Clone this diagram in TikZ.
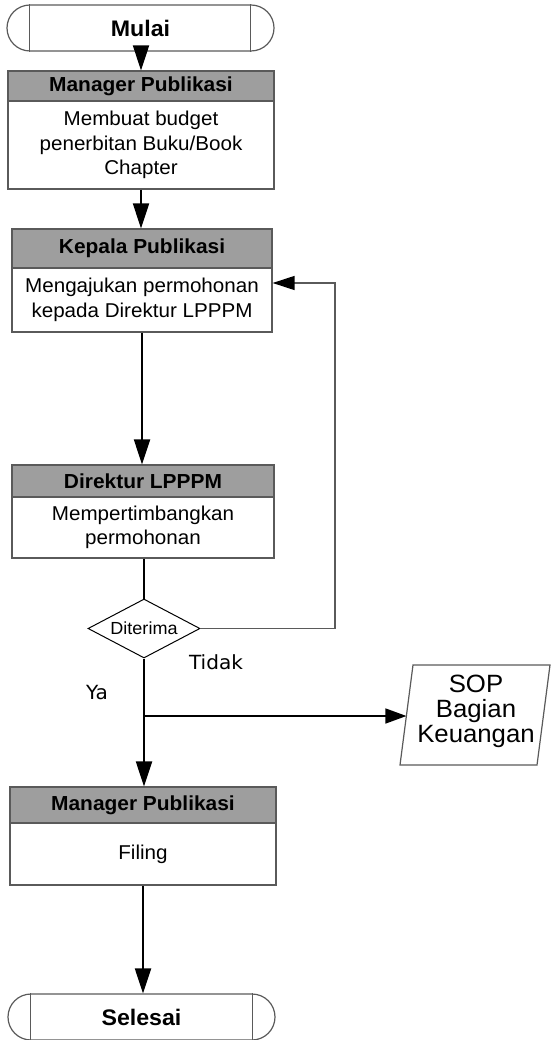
\documentclass[tikz,border=0pt]{standalone}
\usepackage{fontspec}
\setmainfont{Liberation Sans}[FakeStretch=1.03]
\newfontfamily\dvs{DejaVu Sans}[FakeStretch=1.03]
\usetikzlibrary{arrows.meta,shapes.geometric,calc}
\definecolor{hdr}{RGB}{158,158,158}
\definecolor{bord}{RGB}{90,90,90}
\begin{document}
\begin{tikzpicture}[x=1pt,y=-1pt,
  hdrbox/.style={draw=bord, line width=1.2pt, fill=hdr, inner sep=0pt,
    font=\fontsize{20.3}{22}\selectfont\bfseries},
  bodybox/.style={draw=bord, line width=1.2pt, fill=white, inner sep=0pt, align=center,
    font=\fontsize{20}{24.5}\selectfont},
  term/.style={draw=bord, line width=1.2pt, rounded corners=23pt, minimum height=46pt,
    minimum width=267pt, inner sep=0pt, font=\fontsize{22.5}{24}\selectfont\bfseries},
  flow/.style={line width=2pt, -{Triangle[length=25pt,width=16pt]}},
  plain/.style={line width=2pt},
  back/.style={draw=bord, line width=1.3pt, -{Triangle[length=22pt,width=14pt,color=black]}},
  side/.style={line width=1.6pt, -{Triangle[length=21pt,width=15pt]}}
]
\useasboundingbox (0,0) rectangle (551,1040);

% Start
\node[term] (mulai) at (140.5,28) {Mulai};
\draw[bord, line width=1.2pt] ($(mulai.north west)+(23,0)$) -- ($(mulai.south west)+(23,0)$);
\draw[bord, line width=1.2pt] ($(mulai.north east)+(-24,0)$) -- ($(mulai.south east)+(-24,0)$);

% Box 1
\node[hdrbox, minimum width=266pt, minimum height=30pt] (h1) at (141,86) {Manager Publikasi};
\node[bodybox, minimum width=266pt, minimum height=88pt] (b1) at (141,145)
  {Membuat budget\\penerbitan Buku/Book\\Chapter};

% Box 2
\node[hdrbox, minimum width=260pt, minimum height=39pt] (h2) at (142,248.5) {Kepala Publikasi};
\node[bodybox, minimum width=260pt, minimum height=64pt] (b2) at (142,300)
  {Mengajukan permohonan\\kepada Direktur LPPPM};

% Box 3
\node[hdrbox, minimum width=262pt, minimum height=32pt] (h3) at (143,481) {Direktur LPPPM};
\node[bodybox, minimum width=262pt, minimum height=61pt] (b3) at (143,527.5)
  {Mempertimbangkan\\permohonan};

% Decision
\node[diamond, draw=black, line width=1pt, inner sep=0pt, aspect=1.9,
  minimum width=112pt, minimum height=59pt, font=\fontsize{17.5}{18}\selectfont] (dia) at (144,628.5) {Diterima};
\node[font=\dvs\fontsize{19.5}{20}\selectfont] (tidak) at (216,662) {Tidak};
\node[font=\dvs\fontsize{19.5}{20}\selectfont] (ya) at (97,693) {Ya};

% Box 4
\node[hdrbox, minimum width=266pt, minimum height=36pt] (h4) at (143,805) {Manager Publikasi};
\node[bodybox, minimum width=266pt, minimum height=62pt] (b4) at (143,854) {Filing};

% End
\node[term] (selesai) at (141.5,1017) {Selesai};
\draw[bord, line width=1.2pt] ($(selesai.north west)+(23,0)$) -- ($(selesai.south west)+(23,0)$);
\draw[bord, line width=1.2pt] ($(selesai.north east)+(-23,0)$) -- ($(selesai.south east)+(-23,0)$);

% SOP parallelogram
\coordinate (s1) at (413,665);
\coordinate (s2) at (550,665);
\coordinate (s3) at (537,765);
\coordinate (s4) at (400,765);
\draw[bord, line width=1.2pt, fill=white] (s1) -- (s2) -- (s3) -- (s4) -- cycle;
\node[align=center, inner sep=0pt, font=\fontsize{25}{25}\selectfont] (sop) at (476,711)
  {SOP\\Bagian\\Keuangan};
\coordinate (sopin) at (406.4,716);

% Connectors
\draw[flow] (mulai.south -| h1.north) -- (h1.north);
\draw[flow] (b1.south) -- (b1.south |- h2.north);
\draw[flow] (b2.south) -- (b2.south |- h3.north);
\draw[plain] (b3.south -| dia.north) -- (dia.north);
\draw[flow] (dia.south) -- (dia.south |- h4.north);
\coordinate (br) at (dia.south |- sopin);
\draw[side] (br) -- (sopin);
\coordinate (loopc) at (335,628.5);
\draw[back] (dia.east) -- (loopc) |- (b2.east |- 0,283);
\draw[flow] (b4.south) -- (b4.south |- selesai.north);
\end{tikzpicture}
\end{document}
